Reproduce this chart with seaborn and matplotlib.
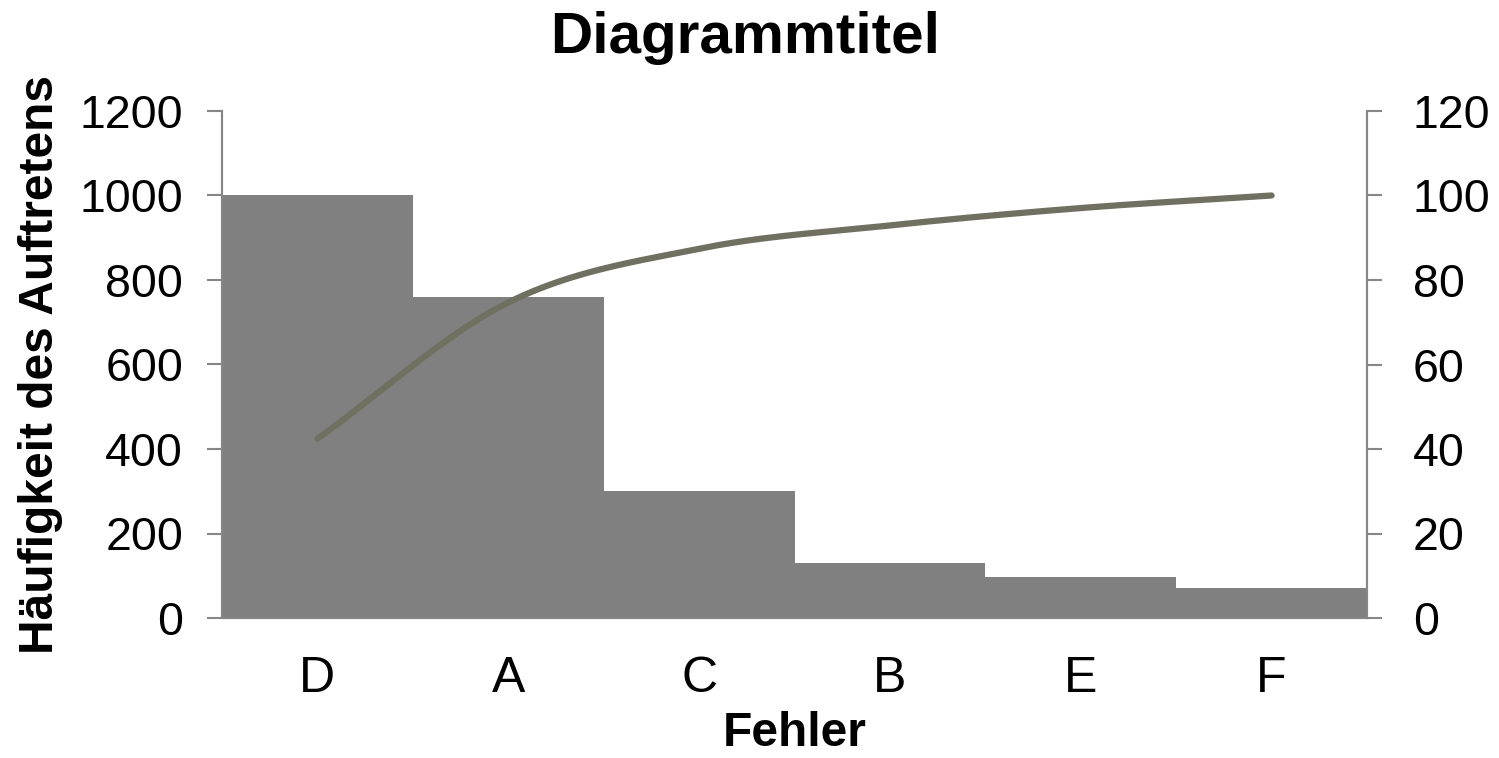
import numpy as np
import pandas as pd
import matplotlib
matplotlib.use("Agg")
import matplotlib.pyplot as plt
import seaborn as sns

# Pareto data: error categories and how often they occur
fehler = ['D', 'A', 'C', 'B', 'E', 'F']
haeufigkeit = [1000, 760, 300, 130, 97, 70]

df = pd.DataFrame({'Fehler': fehler, 'Haeufigkeit': haeufigkeit})
df['Kumuliert'] = df['Haeufigkeit'].cumsum() / df['Haeufigkeit'].sum() * 100


def catmull_rom(y, n=40):
    # smoothed line like the spreadsheet "smooth line" option
    pts = np.asarray(y, dtype=float)
    p = np.concatenate([[2 * pts[0] - pts[1]], pts, [2 * pts[-1] - pts[-2]]])
    xs, ys = [], []
    for i in range(len(pts) - 1):
        t = np.linspace(0, 1, n, endpoint=(i == len(pts) - 2))
        p0, p1, p2, p3 = p[i], p[i + 1], p[i + 2], p[i + 3]
        yy = 0.5 * ((2 * p1) + (-p0 + p2) * t + (2 * p0 - 5 * p1 + 4 * p2 - p3) * t ** 2
                    + (-p0 + 3 * p1 - 3 * p2 + p3) * t ** 3)
        xs.append(i + t)
        ys.append(yy)
    return np.concatenate(xs), np.concatenate(ys)


sns.set_style("white")
plt.rcParams['font.family'] = ['Liberation Sans', 'DejaVu Sans']
plt.rcParams['text.color'] = 'black'
plt.rcParams['axes.labelcolor'] = 'black'
plt.rcParams['xtick.color'] = 'black'
plt.rcParams['ytick.color'] = 'black'

axis_grey = '#868686'

fig = plt.figure(figsize=(14.99, 7.58), dpi=100)
ax = fig.add_axes([222 / 1499, 140 / 758, (1367 - 222) / 1499, 507 / 758])

sns.barplot(data=df, x='Fehler', y='Haeufigkeit', color='#808080', saturation=1,
            width=1.0, linewidth=0, ax=ax)
ax.set_ylim(0, 1200)
ax.set_yticks(range(0, 1201, 200))
ax.set_xlim(-0.5, len(fehler) - 0.5)

ax2 = ax.twinx()
sx, sy = catmull_rom(df['Kumuliert'].values)
sns.lineplot(x=sx, y=sy, color='#707060', linewidth=4.5, ax=ax2, sort=False)
ax2.set_ylim(0, 120)
ax2.set_yticks(range(0, 121, 20))

for a in (ax, ax2):
    for s in a.spines.values():
        s.set_color(axis_grey)
        s.set_linewidth(1.5)
    a.spines['top'].set_visible(False)

ax.tick_params(axis='y', which='both', left=True, length=11, width=1.5, color=axis_grey,
               labelcolor='black', labelsize=33.5, pad=17)
ax.tick_params(axis='x', bottom=False, labelsize=36, pad=24, labelcolor='black')
ax2.tick_params(axis='y', right=True, length=11, width=1.5, color=axis_grey,
                labelcolor='black', labelsize=33.5, pad=22)

ax.set_xlabel('Fehler', fontsize=34.5, fontweight='bold', labelpad=6, color='black')
ax.set_ylabel('Häufigkeit des Auftretens', fontsize=34.5, fontweight='bold',
              labelpad=12, color='black')
ax2.set_ylabel('')
fig.text(0.497, 0.985, 'Diagrammtitel', fontsize=42, fontweight='bold',
         ha='center', va='top', color='black')

fig.savefig('out.png', dpi=100)
